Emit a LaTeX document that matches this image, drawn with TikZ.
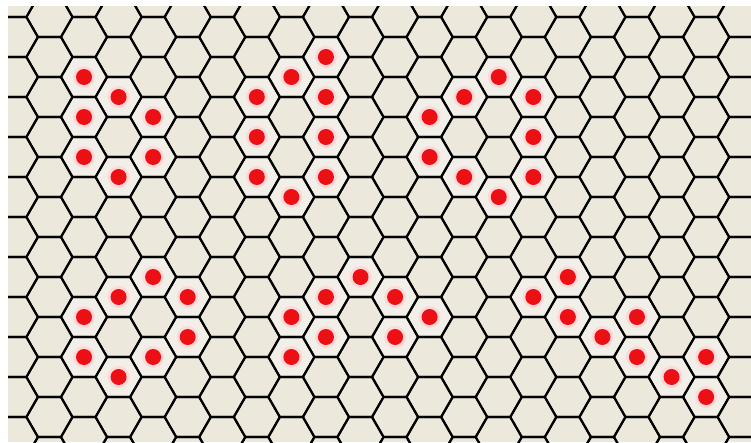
\documentclass[tikz,border=0pt]{standalone}
\usepackage{xcolor}
\usepackage{tikz}
\usetikzlibrary{calc}

\definecolor{boardbg}{HTML}{ECE8DC}
\definecolor{cellhi}{HTML}{F2EFE9}
\definecolor{stonered}{HTML}{EC0F14}

\begin{document}
\begin{tikzpicture}[
    x=1pt,
    y=-1pt,
    cell/.style={
        draw=black,
        line width=2.1pt,
        line join=round
    },
    litcell/.style={
        fill=cellhi
    },
    halo/.style={
        fill=red!15
    },
    stone/.style={
        fill=stonered
    }
]

\useasboundingbox (0,0) rectangle (751,442);
\fill[white] (0,0) rectangle (751,442);
\fill[boardbg] (8,6) rectangle (751,442);

\begin{scope}
\clip (8,6) rectangle (751,442);

% lighter cells under the stones
\foreach \i/\k in {2/4, 3/5, 2/6, 4/6, 2/8, 4/8, 3/9,
                   9/3, 8/4, 7/5, 9/5, 7/7, 9/7, 7/9, 9/9, 8/10,
                   14/4, 13/5, 15/5, 12/6, 15/7, 12/8, 13/9, 15/9, 14/10,
                   4/14, 3/15, 5/15, 2/16, 5/17, 2/18, 4/18, 3/19,
                   10/14, 9/15, 11/15, 8/16, 12/16, 9/17, 11/17, 8/18,
                   16/14, 15/15, 16/16, 18/16, 17/17, 18/18, 20/18, 19/19, 20/20} {
    \fill[litcell, shift={({14.9+34.56*\i}, {-3+20*\k})}]
        (-23.04,0) -- (-11.52,-20) -- (11.52,-20) -- (23.04,0) -- (11.52,20) -- (-11.52,20) -- cycle;
}

% hex board
\foreach \i in {-1,...,22} {
    \foreach \j in {0,...,11} {
        \pgfmathsetmacro\cx{14.9+34.56*\i}
        \pgfmathsetmacro\cy{-3+40*\j+20*mod(\i+2,2)}
        \draw[cell, shift={(\cx,\cy)}]
            (-23.04,0) -- (-11.52,-20) -- (11.52,-20) -- (23.04,0) -- (11.52,20) -- (-11.52,20) -- cycle;
    }
}

% stones
\foreach \i/\k in {2/4, 3/5, 2/6, 4/6, 2/8, 4/8, 3/9,
                   9/3, 8/4, 7/5, 9/5, 7/7, 9/7, 7/9, 9/9, 8/10,
                   14/4, 13/5, 15/5, 12/6, 15/7, 12/8, 13/9, 15/9, 14/10,
                   4/14, 3/15, 5/15, 2/16, 5/17, 2/18, 4/18, 3/19,
                   10/14, 9/15, 11/15, 8/16, 12/16, 9/17, 11/17, 8/18,
                   16/14, 15/15, 16/16, 18/16, 17/17, 18/18, 20/18, 19/19, 20/20} {
    \fill[halo] ({14.9+34.56*\i}, {-3+20*\k}) circle (11);
    \fill[stone] ({14.9+34.56*\i}, {-3+20*\k}) circle (8);
}
\end{scope}

\end{tikzpicture}
\end{document}
